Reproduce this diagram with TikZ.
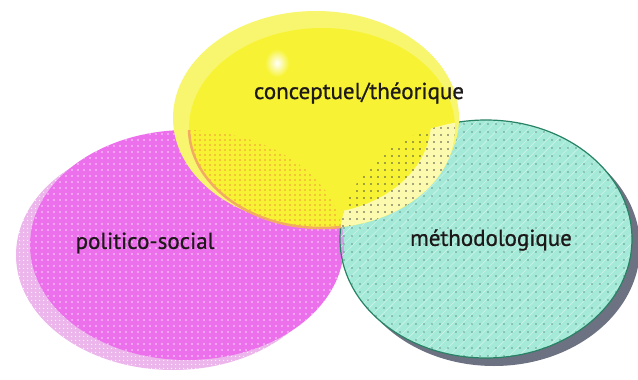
\documentclass[tikz,border=0pt]{standalone}
\usepackage{fontspec}
\setmainfont{PT Sans}
\usetikzlibrary{patterns.meta}
\definecolor{mag}{RGB}{236,112,236}
\definecolor{magshadow}{RGB}{236,182,236}
\definecolor{overlapmt}{RGB}{214,160,232}
\definecolor{yel}{RGB}{247,243,52}
\definecolor{yelouter}{RGB}{248,246,110}
\definecolor{tealfill}{RGB}{165,234,216}
\definecolor{tealedge}{RGB}{40,130,100}
\definecolor{shadowgray}{RGB}{108,114,130}
\definecolor{orangedot}{RGB}{240,150,60}
\definecolor{txt}{RGB}{30,25,25}
\begin{document}
\begin{tikzpicture}[x=1pt,y=-1pt,
  lbl/.style={font=\fontsize{23}{25}\selectfont\addfontfeatures{FakeBold=0.8}, text=txt, inner sep=0pt}]
\useasboundingbox (0,0) rectangle (638,380);
\fill[white] (0,0) rectangle (638,380);
% magenta
\fill[magshadow] (173,255) ellipse [x radius=157, y radius=115];
\path[pattern={Dots[distance=4pt,radius=0.7pt]}, pattern color=white] (173,255) ellipse [x radius=157, y radius=115];
\fill[mag] (187,245) ellipse [x radius=157, y radius=115];
\path[pattern={Dots[distance=6pt,radius=0.8pt]}, pattern color=white!75!mag] (187,245) ellipse [x radius=157, y radius=115];
% teal
\fill[shadowgray] (494,247) ellipse [x radius=146, y radius=119];
\fill[tealfill] (486,239) ellipse [x radius=146, y radius=119];
\begin{scope}
  \clip (486,239) ellipse [x radius=146, y radius=119];
  \fill[overlapmt] (187,245) ellipse [x radius=157, y radius=115];
\end{scope}
\path[pattern={Lines[angle=45,distance=7pt,line width=0.4pt]}, pattern color=white!55!tealfill] (486,239) ellipse [x radius=146, y radius=119];
\path[pattern={Dots[distance=8pt,radius=0.7pt]}, pattern color=tealedge!50!black] (486,239) ellipse [x radius=146, y radius=119];
\draw[tealedge, line width=1.2pt] (486,239) ellipse [x radius=146, y radius=119];
% yellow
\fill[yelouter] (316,118) ellipse [x radius=143, y radius=107];
\fill[yel] (322,128) ellipse [x radius=133, y radius=100];
\begin{scope}
  \clip (187,245) ellipse [x radius=157, y radius=115];
  \path[pattern={Dots[distance=5pt,radius=0.9pt]}, pattern color=orangedot] (322,128) ellipse [x radius=133, y radius=100];
  \draw[orangedot!80, line width=2.5pt] (322,128) ellipse [x radius=133, y radius=100];
\end{scope}
\begin{scope}
  \clip (486,239) ellipse [x radius=146, y radius=119];
  \fill[white!60!yel, even odd rule] (322,128) ellipse [x radius=133, y radius=100]
     (312,122) ellipse [x radius=119, y radius=92];
  \path[pattern={Dots[distance=7pt,radius=0.8pt]}, pattern color=black!70] (322,128) ellipse [x radius=133, y radius=100];
\end{scope}
\shade[inner color=white, outer color=yel] (277,63) ellipse [x radius=12, y radius=14];
% labels
\node[lbl] (ct) at (359,93) {conceptuel/théorique};
\node[lbl] (ps) at (145,243) {politico-social};
\node[lbl] (me) at (491,240) {méthodologique};
\end{tikzpicture}
\end{document}
